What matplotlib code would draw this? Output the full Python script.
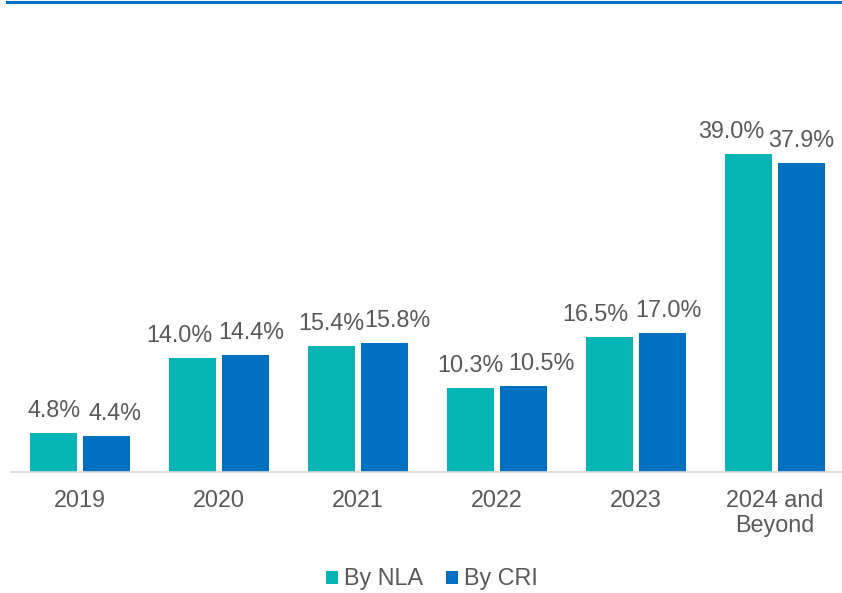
import matplotlib
matplotlib.use("Agg")
from matplotlib import pyplot as plt
from matplotlib.lines import Line2D
import numpy as np

# chart data
categories = ["2019", "2020", "2021", "2022", "2023", "2024 and\nBeyond"]
by_nla = [4.8, 14.0, 15.4, 10.3, 16.5, 39.0]
by_cri = [4.4, 14.4, 15.8, 10.5, 17.0, 37.9]
series_names = ["By NLA", "By CRI"]

# sideways nudges of the value labels (pixels), as placed in the original
nudge_nla = [0, -13, 0, 0, -14.5, -17]
nudge_cri = [8.5, 6, 12.5, 18, 6.5, 0]

teal = "#07B5B5"
blue = "#0070C0"
grey_text = "#595959"

plt.rcParams['font.family'] = ['Liberation Sans', 'DejaVu Sans']
fs = 16.8

fig = plt.figure(figsize=(8.42, 5.93), dpi=100)
# axes placed in pixel terms: left 10.5, right 844.5, baseline at y=472
ax = fig.add_axes([10.5 / 842, (593 - 472) / 593, 834 / 842, (472 - 105) / 593])

x = np.arange(len(categories))
w = 0.338
off = 0.19
b1 = ax.bar(x - off, by_nla, w, color=teal, label=series_names[0])
b2 = ax.bar(x + off, by_cri, w, color=blue, label=series_names[1])

for bars, vals, nudges in ((b1, by_nla, nudge_nla), (b2, by_cri, nudge_cri)):
    for bar, v, dx in zip(bars, vals, nudges):
        ax.annotate("%.1f%%" % v, (bar.get_x() + bar.get_width() / 2, v),
                    xytext=(dx * 0.72, 11.5), textcoords="offset points",
                    ha="center", va="baseline", fontsize=fs, color=grey_text)

ax.set_xlim(-0.5, len(categories) - 0.5)
ax.set_ylim(0, 45)
ax.set_yticks([])
ax.set_xticks(x)
ax.set_xticklabels(categories, fontsize=fs, color=grey_text, linespacing=1.15)
ax.tick_params(axis='x', length=0, pad=12)
for s in ("top", "right", "left"):
    ax.spines[s].set_visible(False)
ax.spines["bottom"].set_color("#D9D9D9")
ax.spines["bottom"].set_linewidth(1.2)

# blue rule along the top
fig.add_artist(Line2D([7 / 842, 1.0], [1 - 1.5 / 593, 1 - 1.5 / 593],
                      color=blue, linewidth=2.2, transform=fig.transFigure))

fig.legend(handles=[b1, b2], loc="center", bbox_to_anchor=(432 / 842, 1 - 579 / 593),
           ncol=2, frameon=False, fontsize=fs, labelcolor=grey_text,
           handlelength=0.5, handleheight=0.5, handletextpad=0.25,
           columnspacing=1.0)

fig.savefig("out.png", dpi=100)
